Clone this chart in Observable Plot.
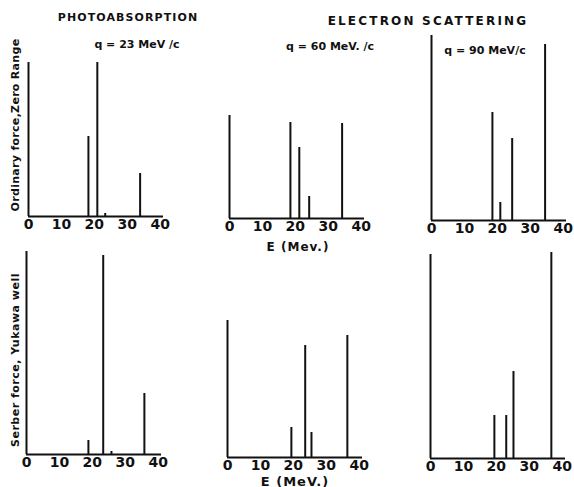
<!DOCTYPE html>
<html>
<head>
<meta charset="utf-8">
<script src="https://cdn.jsdelivr.net/npm/d3@7"></script>
<script src="https://cdn.jsdelivr.net/npm/@observablehq/plot@0.6"></script>
<style>
  html, body { margin: 0; padding: 0; background: #fff; }
  #wrap { position: relative; width: 574px; height: 487px; background: #fff; overflow: hidden; }
  .lbl { position: absolute; transform: translate(-50%, -50%); white-space: nowrap;
         font-family: "DejaVu Sans", sans-serif; font-weight: bold; color: #111; }
  .panel { position: absolute; }
</style>
</head>
<body>
<div id="wrap"></div>
<script>
// ---- data (E in MeV, intensity in arbitrary units) ----
const xTicks = [0, 10, 20, 30, 40];

// Ordinary force, zero range
const ordPhotoE = [18.2, 20.9, 23.3, 33.9];
const ordPhotoI = [80, 154, 3, 43];
const ordPhotoAxisTop = 154;
const ord60E = [0, 18.5, 21.2, 24.2, 34.2];
const ord60I = [103, 96, 71, 22, 95];
const ord90E = [0, 18.5, 20.9, 24.5, 34.5];
const ord90I = [185, 108, 18, 82, 176];

// Serber force, Yukawa well
const serPhotoE = [18.8, 23.3, 25.8, 35.8];
const serPhotoI = [14, 199, 3, 61];
const serPhotoAxisTop = 203;
const ser60E = [0, 19.4, 23.6, 25.5, 36.4];
const ser60I = [137, 30, 112, 25, 122];
const ser90E = [0, 19.4, 23.0, 25.2, 36.7];
const ser90I = [204, 43, 43, 87, 206];

// ---- layout ----
const wrap = document.getElementById("wrap");
const ML = 10, MR = 25, MT = 5, MB = 30;
const W = 170, H = 245;
const ink = "#111";

function panel(E, I, axisTop, x0, base) {
  const data = E.map((e, i) => ({E: e, I: I[i]}));
  const marks = [
    Plot.ruleY([0], {stroke: ink, strokeWidth: 2}),
    Plot.ruleX(data, {x: "E", y1: 0, y2: "I", stroke: ink, strokeWidth: 2}),
    Plot.axisX({ticks: xTicks, tickSize: 0, tickPadding: 3, tickFormat: d => String(d), label: null})
  ];
  if (axisTop != null) marks.push(Plot.ruleX([0], {y1: 0, y2: axisTop, stroke: ink, strokeWidth: 2}));
  const svg = Plot.plot({
    width: W, height: H,
    marginLeft: ML, marginRight: MR, marginTop: MT, marginBottom: MB,
    x: {domain: [0, 41], range: [ML, W - MR]},
    y: {domain: [0, 210], range: [H - MB, MT], axis: null},
    style: {fontFamily: "DejaVu Sans, sans-serif", fontSize: "14px", fontWeight: "bold", color: ink, background: "transparent", overflow: "visible"},
    marks
  });
  svg.classList.add("panel");
  svg.style.left = (x0 - ML) + "px";
  svg.style.top = (base - (H - MB)) + "px";
  wrap.appendChild(svg);
}

panel(ordPhotoE, ordPhotoI, ordPhotoAxisTop, 28, 216);
panel(ord60E, ord60I, null, 229, 218);
panel(ord90E, ord90I, null, 431, 220);
panel(serPhotoE, serPhotoI, serPhotoAxisTop, 26, 454);
panel(ser60E, ser60I, null, 227, 457);
panel(ser90E, ser90I, null, 430, 458);

function label(text, cx, cy, size, spacing, rotate) {
  const d = document.createElement("div");
  d.className = "lbl";
  d.textContent = text;
  d.style.left = cx + "px";
  d.style.top = cy + "px";
  d.style.fontSize = size + "px";
  d.style.letterSpacing = spacing + "px";
  if (rotate) d.style.transform = "translate(-50%, -50%) rotate(-90deg)";
  wrap.appendChild(d);
}

label("PHOTOABSORPTION", 128, 17, 11, 1.1);
label("ELECTRON SCATTERING", 428, 21, 12, 2.2);
label("q = 23 MeV /c", 137, 44, 11, 0);
label("q = 60 MeV. /c", 330, 46, 11, 0);
label("q = 90 MeV/c", 485, 50, 11, 0);
label("E  (Mev.)", 298, 247, 12, 1);
label("E (MeV.)", 295, 481, 13, 1);
label("Ordinary force,Zero Range", 15, 125, 11, 0.3, true);
label("Serber force, Yukawa well", 15, 360, 11, 0.5, true);
</script>
</body>
</html>
